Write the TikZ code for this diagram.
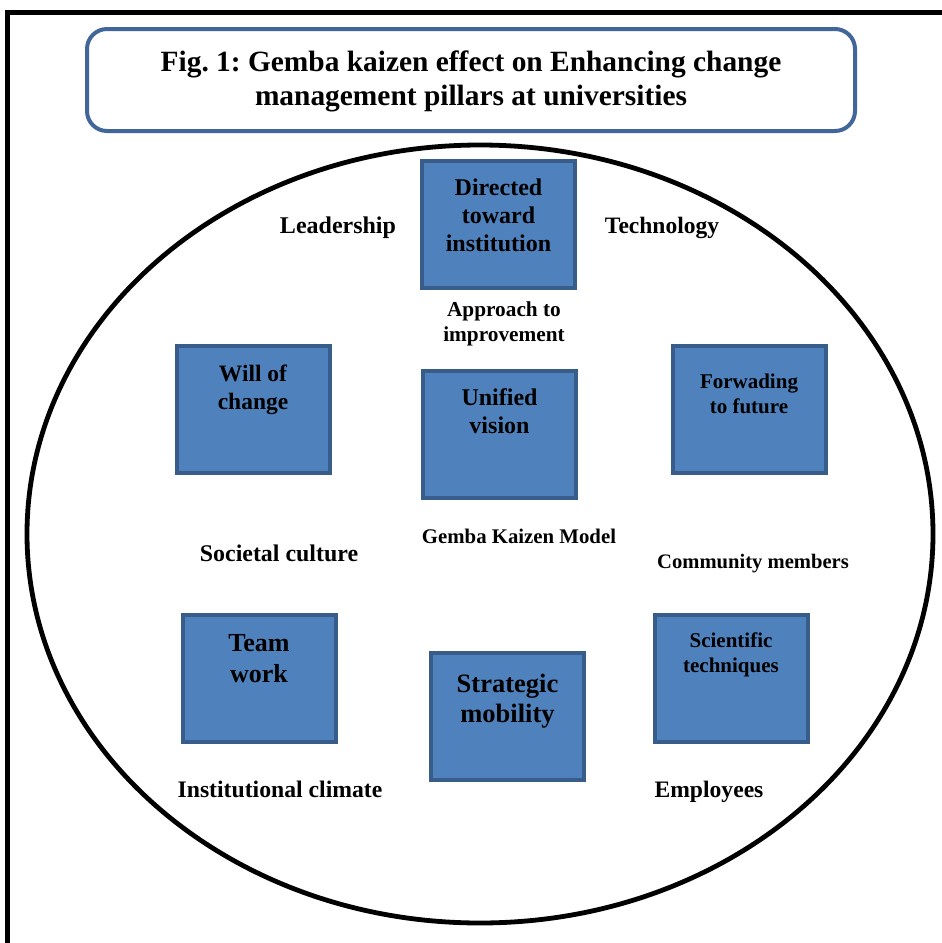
\documentclass[tikz,border=0pt]{standalone}
\usepackage{fontspec}
\setmainfont{Liberation Serif}
\usetikzlibrary{calc,shapes.geometric}
\definecolor{boxfill}{HTML}{4F81BD}
\definecolor{boxborder}{HTML}{385D8A}
\definecolor{titleborder}{HTML}{41679A}
\tikzset{
  pbox/.style={draw=boxborder, line width=4pt, fill=boxfill, inner sep=0pt,
    minimum width=153pt, minimum height=127pt},
  btext/.style={anchor=north, inner sep=0pt, align=center, font=\bfseries},
  lbl/.style={inner sep=0pt, align=center, font=\bfseries},
}
\frenchspacing
\begin{document}
\begin{tikzpicture}[x=1pt,y=-1pt]
\useasboundingbox (0,0) rectangle (942,943);
% outer frame
\draw[line width=4.5pt] (7.5,960) -- (7.5,12.5) -- (960,12.5);
% title
\node[draw=titleborder, line width=4pt, rounded corners=20pt, fill=white,
  minimum width=768pt, minimum height=102pt, inner sep=0pt] (title) at (471,80) {};
\node[lbl, font=\bfseries\fontsize{29.4}{34}\selectfont] (titlet) at (471,81)
  {Fig. 1: Gemba kaizen effect on Enhancing change\\management pillars at universities};
% ellipse
\node[draw, line width=4.8pt, ellipse, minimum width=906pt, minimum height=778pt, inner sep=0pt] (ell) at (480,534) {};
% boxes
\node[pbox] (dir) at (498.5,224) {};
\node[pbox] (will) at (253,409.5) {};
\node[pbox] (uni) at (499.5,434) {};
\node[pbox] (fwd) at (749,409) {};
\node[pbox] (team) at (259,678.5) {};
\node[pbox] (strat) at (507.5,716.5) {};
\node[pbox] (sci) at (731,678.5) {};
% box texts
\node[btext, font=\bfseries\fontsize{24}{28}\selectfont] (dirt) at ($(dir.north)+(0,20)$) {Directed\\toward\\institution};
\node[btext, font=\bfseries\fontsize{23.5}{28}\selectfont] (willt) at ($(will.north)+(0,21)$) {Will of\\change};
\node[btext, font=\bfseries\fontsize{24}{28}\selectfont] (unit) at ($(uni.north)+(0,20)$) {Unified\\vision};
\node[btext, font=\bfseries\fontsize{21}{25}\selectfont] (fwdt) at ($(fwd.north)+(0,30)$) {Forwading\\to future};
\node[btext, font=\bfseries\fontsize{26}{31}\selectfont] (teamt) at ($(team.north)+(0,21)$) {Team\\work};
\node[btext, font=\bfseries\fontsize{26.5}{30}\selectfont] (stratt) at ($(strat.north)+(0,23)$) {Strategic\\mobility};
\node[btext, font=\bfseries\fontsize{21}{25}\selectfont] (scit) at ($(sci.north)+(0,20)$) {Scientific\\techniques};
% labels
\node[lbl, font=\bfseries\fontsize{24}{28}\selectfont] (lead) at (338,228) {Leadership};
\node[lbl, font=\bfseries\fontsize{23.5}{28}\selectfont] (tech) at (662,228) {Technology};
\node[lbl, font=\bfseries\fontsize{21.3}{25}\selectfont] (appr) at (504,324) {Approach to\\improvement};
\node[lbl, font=\bfseries\fontsize{20.8}{24}\selectfont] (gemba) at (519,536) {Gemba Kaizen Model};
\node[lbl, font=\bfseries\fontsize{23.9}{28}\selectfont] (soc) at (279,553) {Societal culture};
\node[lbl, font=\bfseries\fontsize{20.6}{24}\selectfont] (comm) at (753,564) {Community members};
\node[lbl, font=\bfseries\fontsize{23.7}{28}\selectfont] (inst) at (280,789) {Institutional climate};
\node[lbl, font=\bfseries\fontsize{23.6}{28}\selectfont] (emp) at (709,792) {Employees};
\end{tikzpicture}
\end{document}
